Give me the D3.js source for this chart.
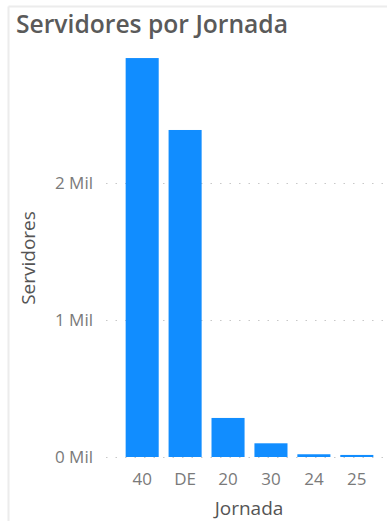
<!DOCTYPE html>
<html><head><meta charset="utf-8">
<script src="https://cdn.jsdelivr.net/npm/d3@7"></script>
<style>
html,body{margin:0;padding:0;background:#fff;}
svg{display:block;}
</style></head>
<body>
<script>
const categories = ["40", "DE", "20", "30", "24", "25"];
const values = [2912, 2387, 285, 100, 20, 15];
const yTicks = [0, 1000, 2000];
const yTickLabels = ["0 Mil", "1 Mil", "2 Mil"];
const title = "Servidores por Jornada";
const xTitle = "Jornada";
const yTitle = "Servidores";

const W = 387, H = 521;
const svg = d3.select("body").append("svg").attr("width", W).attr("height", H);

// frame
svg.append("line").attr("x1", 8.5).attr("x2", W).attr("y1", 6.5).attr("y2", 6.5).attr("stroke", "#ececec").attr("stroke-width", 2);
svg.append("line").attr("x1", 8.5).attr("x2", 8.5).attr("y1", 6.5).attr("y2", H).attr("stroke", "#ececec").attr("stroke-width", 2);

svg.append("text").attr("x", 16).attr("y", 33).text(title)
  .attr("font-family", "'Open Sans', sans-serif").attr("font-size", 24.5).attr("font-weight", 600).attr("fill", "#5a5a5a")
  .attr("textLength", 272).attr("lengthAdjust", "spacingAndGlyphs");

const x = d3.scaleBand().domain(categories).range([120.5, 378.5]).paddingInner(0.23).paddingOuter(0.12);
const y = d3.scaleLinear().domain([0, 2000]).range([457, 183]);

// gridlines
svg.append("g").selectAll("line").data(yTicks).join("line")
  .attr("x1", 106).attr("x2", 383)
  .attr("y1", d => Math.round(y(d)) + 0.5).attr("y2", d => Math.round(y(d)) + 0.5)
  .attr("stroke", "#c8c8c8").attr("stroke-width", 1.2).attr("stroke-dasharray", "1.5,8");

// y axis
const yAxis = d3.axisLeft(y).tickValues(yTicks).tickFormat((d, i) => yTickLabels[i]).tickSize(0).tickPadding(0);
const gy = svg.append("g").attr("transform", "translate(93,0)").call(yAxis);
gy.select(".domain").remove();
gy.selectAll("text").attr("font-family", "'Open Sans', sans-serif").attr("font-size", 17).attr("fill", "#7a7a7a").attr("dy", "0.35em");

// bars
svg.append("g").selectAll("rect").data(values).join("rect")
  .attr("x", (d, i) => x(categories[i]))
  .attr("width", x.bandwidth())
  .attr("y", d => y(d))
  .attr("height", d => Math.max(0, y(0) - y(d)))
  .attr("fill", "#118dff");

// x axis
const xAxis = d3.axisBottom(x).tickSize(0).tickPadding(0);
const gx = svg.append("g").attr("transform", "translate(0,485)").call(xAxis);
gx.select(".domain").remove();
gx.selectAll("text").attr("font-family", "'Open Sans', sans-serif").attr("font-size", 17).attr("fill", "#7a7a7a").attr("dy", "0").attr("y", 0);

svg.append("text").attr("x", 249).attr("y", 515).attr("text-anchor", "middle").text(xTitle)
  .attr("font-family", "'Open Sans', sans-serif").attr("font-size", 19).attr("font-weight", 500).attr("fill", "#555");
svg.append("text").attr("transform", "translate(35,258) rotate(-90)").attr("text-anchor", "middle").text(yTitle)
  .attr("font-family", "'Open Sans', sans-serif").attr("font-size", 19).attr("font-weight", 500).attr("fill", "#555");
</script>
</body></html>
